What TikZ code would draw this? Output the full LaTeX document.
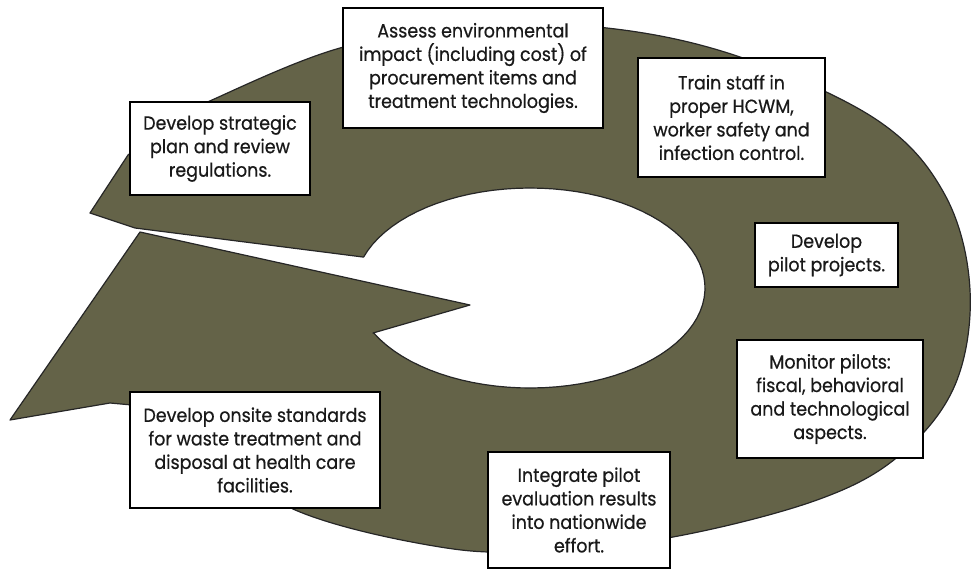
\documentclass[tikz,border=0pt]{standalone}
\usepackage{fontspec}
\setmainfont{Poppins}[FakeStretch=0.92, FakeBold=0.6]
\begin{document}
\begin{tikzpicture}[x=1pt,y=-1pt,
  stagebox/.style={draw=black, line width=2.2pt, fill=white, rectangle, inner sep=0pt,
     align=center, font=\fontsize{19}{23.5}\selectfont, text=black!90}]
\definecolor{ringcol}{RGB}{100,99,72}
\useasboundingbox (0,0) rectangle (972,571);
% ring with slit and arrow wedge
\fill[ringcol] (90,213) -- (128,155)
  -- plot[smooth, tension=0.6] coordinates {(128,155) (170,124) (212,100) (340,48) (470,27) (607,28) (740,57) (877,120) (945,195) (970,290) (955,385) (900,455) (817,500) (673,537) (540,551) (440,547) (300,512) (200,450) (132,405)}
  -- (110,403) -- (10,420) -- (140,232) -- (470,305) -- (373,333)
  -- plot[domain=0:315, samples=80] ({530+175*cos(153-\x)},{288+100*sin(153-\x)})
  -- (135,228) -- cycle;
\draw[draw=black!85, line width=1.2pt, line join=round] (90,213) -- (128,155)
  -- plot[smooth, tension=0.6] coordinates {(128,155) (170,124) (212,100) (340,48) (470,27) (607,28) (740,57) (877,120) (945,195) (970,290) (955,385) (900,455) (817,500) (673,537) (540,551) (440,547) (300,512) (200,450) (132,405)}
  -- (110,403) -- (10,420) -- (140,232) -- (470,305) -- (373,333)
  -- plot[domain=0:315, samples=80] ({530+175*cos(153-\x)},{288+100*sin(153-\x)})
  -- (135,228) -- cycle;
% boxes
\node[stagebox, minimum width=180pt, minimum height=93pt] (plan) at (220,148.5)
  {Develop strategic\\plan and review\\regulations.};
\node[stagebox, minimum width=260pt, minimum height=120pt] (assess) at (473,68)
  {Assess environmental\\impact (including cost) of\\procurement items and\\treatment technologies.};
\node[stagebox, minimum width=187pt, minimum height=119pt] (train) at (731.5,117.5)
  {Train staff in\\proper HCWM,\\worker safety and\\infection control.};
\node[stagebox, minimum width=143pt, minimum height=64pt] (pilot) at (826.5,255)
  {Develop\\pilot projects.};
\node[stagebox, minimum width=186pt, minimum height=118pt] (monitor) at (830,399)
  {Monitor pilots:\\fiscal, behavioral\\and technological\\aspects.};
\node[stagebox, minimum width=182pt, minimum height=116pt] (integrate) at (579,510)
  {Integrate pilot\\evaluation results\\into nationwide\\effort.};
\node[stagebox, minimum width=250pt, minimum height=116pt] (onsite) at (255,450)
  {Develop onsite standards\\for waste treatment and\\disposal at health care\\facilities.};
\end{tikzpicture}
\end{document}
